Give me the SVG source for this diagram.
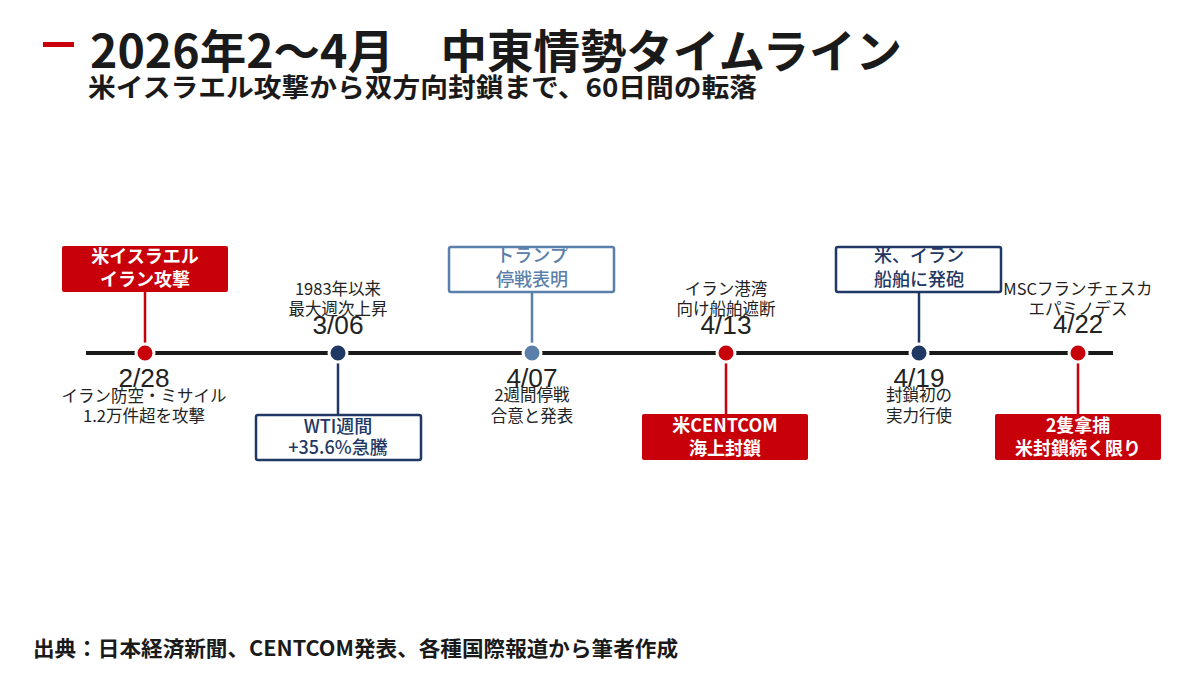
<svg xmlns="http://www.w3.org/2000/svg" width="1200" height="691" viewBox="0 0 1200 691">
<style>
.jp{font-family:"Noto Sans CJK JP","Noto Sans",sans-serif}
.title{font-size:46px;font-weight:700;fill:#1a1a1a}
.sub{font-size:26px;font-weight:700;fill:#1a1a1a}
.foot{font-size:21px;font-weight:700;fill:#1a1a1a}
.desc{font-size:16.5px;fill:#222;text-anchor:middle}
.date{font-family:"Liberation Sans Narrow","Liberation Sans",sans-serif;font-size:25px;fill:#222;text-anchor:middle}
.bt{font-size:18px;text-anchor:middle}
.wt{fill:#fff;font-weight:700}
.nv{fill:#1F3864;font-weight:500}
.sb{fill:#5A7FAA;font-weight:500}
.rbox{fill:#C8000A}
.nbox{fill:#fff;stroke:#1F3864;stroke-width:2.5}
.sbox{fill:#fff;stroke:#5A7FAA;stroke-width:2.5}
.dot{stroke:#fff;stroke-width:3}
.c{stroke-width:2.5;fill:none}
</style>
<rect width="1200" height="691" fill="#fff"/>
<rect x="43" y="42" width="31" height="5" fill="#C8000A"/>
<text class="jp title" x="90" y="68" textLength="812" lengthAdjust="spacingAndGlyphs">2026年2～4月　中東情勢タイムライン</text>
<text class="jp sub" x="88" y="97" textLength="669" lengthAdjust="spacingAndGlyphs">米イスラエル攻撃から双方向封鎖まで、60日間の転落</text>

<line x1="86" y1="353" x2="1113" y2="353" stroke="#1a1a1a" stroke-width="4"/>

<g id="connectors">
<line class="c" x1="145" y1="292" x2="145" y2="350" stroke="#C8000A"/>
<line class="c" x1="338" y1="356" x2="338" y2="415" stroke="#1F3864"/>
<line class="c" x1="532" y1="292" x2="532" y2="350" stroke="#5A7FAA"/>
<line class="c" x1="726" y1="356" x2="726" y2="414" stroke="#C8000A"/>
<line class="c" x1="919" y1="292" x2="919" y2="350" stroke="#1F3864"/>
<line class="c" x1="1078" y1="356" x2="1078" y2="414" stroke="#C8000A"/>
</g>

<g id="event-0228">
<rect class="rbox" x="62" y="246" width="166" height="46" rx="2"/>
<text class="jp bt wt" x="145" y="263">米イスラエル</text>
<text class="jp bt wt" x="145" y="286">イラン攻撃</text>
<circle class="dot" cx="145" cy="353" r="9" fill="#C8000A"/>
<text class="date" x="144" y="387" textLength="51" lengthAdjust="spacingAndGlyphs">2/28</text>
<text class="jp desc" x="144" y="402">イラン防空・ミサイル</text>
<text class="jp desc" x="144" y="422">1.2万件超を攻撃</text>
</g>

<g id="event-0306">
<text class="jp desc" x="338" y="295">1983年以来</text>
<text class="jp desc" x="338" y="315">最大週次上昇</text>
<text class="date" x="338" y="334" textLength="51" lengthAdjust="spacingAndGlyphs">3/06</text>
<circle class="dot" cx="338" cy="353" r="9" fill="#1F3864"/>
<rect class="nbox" x="256" y="415" width="165" height="45" rx="2"/>
<text class="jp bt nv" x="338" y="433">WTI週間</text>
<text class="jp bt nv" x="338" y="454">+35.6%急騰</text>
</g>

<g id="event-0407">
<rect class="sbox" x="449" y="247" width="165" height="45" rx="2"/>
<text class="jp bt sb" x="532" y="262">トランプ</text>
<text class="jp bt sb" x="532" y="286">停戦表明</text>
<circle class="dot" cx="532" cy="353" r="9" fill="#5A7FAA"/>
<text class="date" x="532" y="387" textLength="51" lengthAdjust="spacingAndGlyphs">4/07</text>
<text class="jp desc" x="532" y="401">2週間停戦</text>
<text class="jp desc" x="532" y="422">合意と発表</text>
</g>

<g id="event-0413">
<text class="jp desc" x="726" y="295">イラン港湾</text>
<text class="jp desc" x="726" y="315">向け船舶遮断</text>
<text class="date" x="726" y="334" textLength="51" lengthAdjust="spacingAndGlyphs">4/13</text>
<circle class="dot" cx="726" cy="353" r="9" fill="#C8000A"/>
<rect class="rbox" x="642" y="414" width="166" height="46" rx="2"/>
<text class="jp bt wt" x="725" y="432">米CENTCOM</text>
<text class="jp bt wt" x="725" y="455">海上封鎖</text>
</g>

<g id="event-0419">
<rect class="nbox" x="836" y="247" width="165" height="45" rx="2"/>
<text class="jp bt nv" x="919" y="262">米、イラン</text>
<text class="jp bt nv" x="919" y="286">船舶に発砲</text>
<circle class="dot" cx="919" cy="353" r="9" fill="#1F3864"/>
<text class="date" x="919" y="387" textLength="51" lengthAdjust="spacingAndGlyphs">4/19</text>
<text class="jp desc" x="919" y="401">封鎖初の</text>
<text class="jp desc" x="919" y="422">実力行使</text>
</g>

<g id="event-0422">
<text class="jp desc" x="1078" y="295">MSCフランチェスカ</text>
<text class="jp desc" x="1078" y="315">エパミノデス</text>
<text class="date" x="1078" y="333" textLength="50" lengthAdjust="spacingAndGlyphs">4/22</text>
<circle class="dot" cx="1078" cy="353" r="9" fill="#C8000A"/>
<rect class="rbox" x="995" y="414" width="166" height="46" rx="2"/>
<text class="jp bt wt" x="1078" y="432">2隻拿捕</text>
<text class="jp bt wt" x="1078" y="455">米封鎖続く限り</text>
</g>

<text class="jp foot" x="33" y="656" textLength="645" lengthAdjust="spacingAndGlyphs">出典：日本経済新聞、CENTCOM発表、各種国際報道から筆者作成</text>
</svg>
